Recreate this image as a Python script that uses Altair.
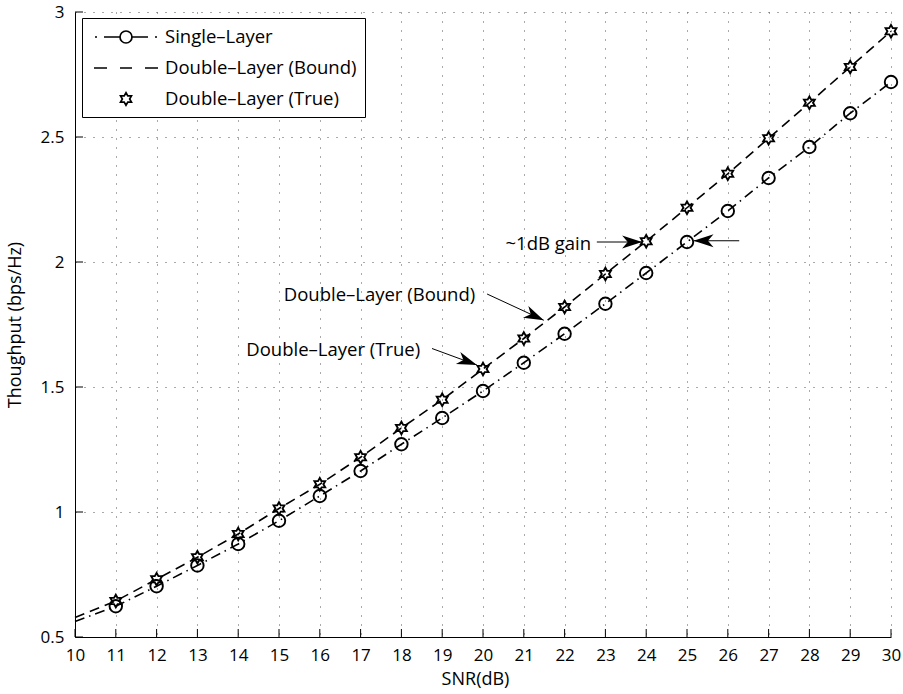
import math

import altair as alt
import pandas as pd

# ---- data -------------------------------------------------------------
snr = list(range(10, 31))

# throughput curves (bps/Hz), sampled every 1 dB from 10 to 30 dB
single_layer = [0.562, 0.623, 0.703, 0.786, 0.872, 0.965, 1.064, 1.164, 1.271,
                1.376, 1.484, 1.597, 1.713, 1.833, 1.956, 2.080, 2.204, 2.336,
                2.460, 2.595, 2.720]
double_bound = [0.578, 0.644, 0.731, 0.819, 0.912, 1.014, 1.111, 1.219, 1.336,
                1.449, 1.572, 1.694, 1.820, 1.952, 2.083, 2.217, 2.353, 2.495,
                2.637, 2.780, 2.923]
# simulated double-layer points, 11 .. 30 dB
true_snr = list(range(11, 31))
double_true = [0.644, 0.731, 0.819, 0.912, 1.014, 1.111, 1.219, 1.336, 1.449,
               1.572, 1.694, 1.820, 1.952, 2.083, 2.217, 2.353, 2.495, 2.637,
               2.780, 2.923]

x_ticks = list(range(10, 31))
y_ticks = [0.5, 1.0, 1.5, 2.0, 2.5, 3.0]

S_SINGLE = "Single\u2013Layer"
S_BOUND = "Double\u2013Layer (Bound)"
S_TRUE = "Double\u2013Layer (True)"
series_names = [S_SINGLE, S_BOUND, S_TRUE]

# annotations (data coordinates)
note_text = ["~1dB gain", S_BOUND, S_TRUE]
note_x = [22.65, 19.81, 18.46]
note_y = [2.071, 1.868, 1.649]

arrow_x = [22.79, 26.28, 20.10, 18.75]
arrow_y = [2.080, 2.085, 1.872, 1.654]
arrow_tip_x = [23.90, 25.16, 21.49, 19.85]
arrow_tip_y = [2.080, 2.085, 1.767, 1.588]

# ---- layout -----------------------------------------------------------
W, H = 816, 625
X_DOMAIN = [10, 30]
Y_DOMAIN = [0.5, 3.0]
FONT = "Open Sans"

HEXAGRAM = ("M0,-1L0.2887,-0.5L0.866,-0.5L0.577,0L0.866,0.5L0.2887,0.5L0,1"
            "L-0.2887,0.5L-0.866,0.5L-0.577,0L-0.866,-0.5L-0.2887,-0.5Z")
ARROW_HEAD = "M0,0L-1,-0.32L-0.72,0L-1,0.32Z"

# legend glyphs (unit = 10 px at symbol size 400)
GLYPH_SINGLE = ("M-3.1,0L-2.9,0M-2.2,0L-0.6,0"
                "M0.6,0A0.6,0.6 0 1,1 -0.6,0A0.6,0.6 0 1,1 0.6,0"
                "M0.6,0L2.2,0M2.9,0L3.1,0")
GLYPH_BOUND = "M-3.2,0L-1.9,0M-0.6,0L0.6,0M1.9,0L3.2,0"
GLYPH_TRUE = ("M0,-0.63L0.182,-0.315L0.546,-0.315L0.364,0L0.546,0.315"
              "L0.182,0.315L0,0.63L-0.182,0.315L-0.546,0.315L-0.364,0"
              "L-0.546,-0.315L-0.182,-0.315Z")

xs = alt.Scale(domain=X_DOMAIN, nice=False, zero=False)
ys = alt.Scale(domain=Y_DOMAIN, nice=False, zero=False)

x_axis = alt.Axis(values=x_ticks, format="d", title="SNR(dB)", grid=True,
                  labelPadding=10, titlePadding=7, titleX=400,
                  labelFlush=False, labelOverlap=False)
y_axis = alt.Axis(values=y_ticks, format="~g", title="Thoughput (bps/Hz)",
                  grid=True, labelPadding=11, titlePadding=16,
                  labelFlush=False, labelOverlap=False)

# ---- tables -----------------------------------------------------------
lines_df = pd.DataFrame({
    "snr": snr + snr,
    "value": single_layer + double_bound,
    "series": [S_SINGLE] * len(snr) + [S_BOUND] * len(snr),
})

points_df = pd.DataFrame({
    "snr": snr[1:] + true_snr,
    "value": single_layer[1:] + double_true,
    "series": [S_SINGLE] * (len(snr) - 1) + [S_TRUE] * len(true_snr),
})

key_df = pd.DataFrame({"series": series_names})

notes_df = pd.DataFrame({"snr": note_x, "value": note_y, "text": note_text})

px_x = W / (X_DOMAIN[1] - X_DOMAIN[0])
px_y = H / (Y_DOMAIN[1] - Y_DOMAIN[0])
angles = [
    math.degrees(math.atan2(-(ty - y0) * px_y, (tx - x0) * px_x)) % 360
    for x0, y0, tx, ty in zip(arrow_x, arrow_y, arrow_tip_x, arrow_tip_y)
]
arrows_df = pd.DataFrame({
    "snr": arrow_x, "value": arrow_y,
    "snr2": arrow_tip_x, "value2": arrow_tip_y,
    "angle": angles,
})

xticks_df = pd.DataFrame({"snr": x_ticks})
yticks_df = pd.DataFrame({"value": y_ticks})

X = alt.X("snr:Q", scale=xs, axis=x_axis)
Y = alt.Y("value:Q", scale=ys, axis=y_axis)

# ---- layers -----------------------------------------------------------
curves = alt.Chart(lines_df).mark_line(color="black", strokeWidth=1.6).encode(
    x=X,
    y=Y,
    strokeDash=alt.StrokeDash(
        "series:N",
        scale=alt.Scale(domain=[S_SINGLE, S_BOUND],
                        range=[[10, 5, 1.5, 5], [10, 6]]),
        legend=None,
    ),
)

markers = alt.Chart(points_df).mark_point(
    filled=False, color="black", strokeWidth=1.9, size=156, opacity=1
).encode(
    x=X,
    y=Y,
    shape=alt.Shape(
        "series:N",
        scale=alt.Scale(domain=[S_SINGLE, S_TRUE], range=["circle", HEXAGRAM]),
        legend=None,
    ),
)

# legend key: combined line + marker glyph per series
key = alt.Chart(key_df).mark_point(
    filled=False, color="black", strokeWidth=1.6, size=400, opacity=0
).encode(
    shape=alt.Shape(
        "series:N",
        scale=alt.Scale(domain=series_names,
                        range=[GLYPH_SINGLE, GLYPH_BOUND, GLYPH_TRUE]),
        legend=alt.Legend(
            title=None,
            orient="none",
            legendX=7,
            legendY=6,
            padding=8,
            fillColor="white",
            strokeColor="black",
            labelFont=FONT,
            labelFontSize=18.5,
            labelColor="black",
            labelLimit=400,
            labelOffset=28,
            symbolSize=400,
            symbolOffset=25,
            symbolStrokeWidth=1.7,
            symbolStrokeColor="black",
            symbolFillColor="transparent",
            symbolOpacity=1,
            rowPadding=10,
        ),
    ),
)

shafts = alt.Chart(arrows_df).mark_rule(color="black", strokeWidth=1).encode(
    x=X,
    y=Y,
    x2="snr2:Q",
    y2="value2:Q",
)

heads = alt.Chart(arrows_df).mark_point(
    shape=ARROW_HEAD, filled=True, color="black", size=1600, strokeWidth=0,
    opacity=1
).encode(
    x=alt.X("snr2:Q", scale=xs, axis=x_axis),
    y=alt.Y("value2:Q", scale=ys, axis=y_axis),
    angle=alt.Angle("angle:Q", scale=None),
)

notes = alt.Chart(notes_df).mark_text(
    align="right", baseline="middle", font=FONT, fontSize=18.5, color="black"
).encode(
    x=X,
    y=Y,
    text="text:N",
)

# inward-pointing tick marks on both axes
x_tick_marks = alt.Chart(xticks_df).mark_rule(color="black", strokeWidth=1).encode(
    x=X,
    y=alt.value(H),
    y2=alt.value(H - 8),
)
y_tick_marks = alt.Chart(yticks_df).mark_rule(color="black", strokeWidth=1).encode(
    y=Y,
    x=alt.value(0),
    x2=alt.value(8),
)

chart = alt.layer(
    curves, markers, shafts, heads, notes, x_tick_marks, y_tick_marks, key
).resolve_scale(
    shape="independent"
).properties(
    width=W,
    height=H,
    padding={"left": 75, "top": 12, "right": 12, "bottom": 57},
    autosize=alt.AutoSizeParams(type="none"),
    background="white",
).configure_axis(
    labelFont=FONT,
    labelFontSize=17,
    labelColor="black",
    titleFont=FONT,
    titleFontSize=18,
    titleFontWeight="normal",
    titleColor="black",
    domainColor="black",
    domainWidth=1,
    ticks=False,
    gridColor="#555555",
    gridDash=[1, 8],
    gridWidth=1,
).configure_view(stroke="transparent")

chart.save("out.html", embed_options={"renderer": "svg", "actions": False})
